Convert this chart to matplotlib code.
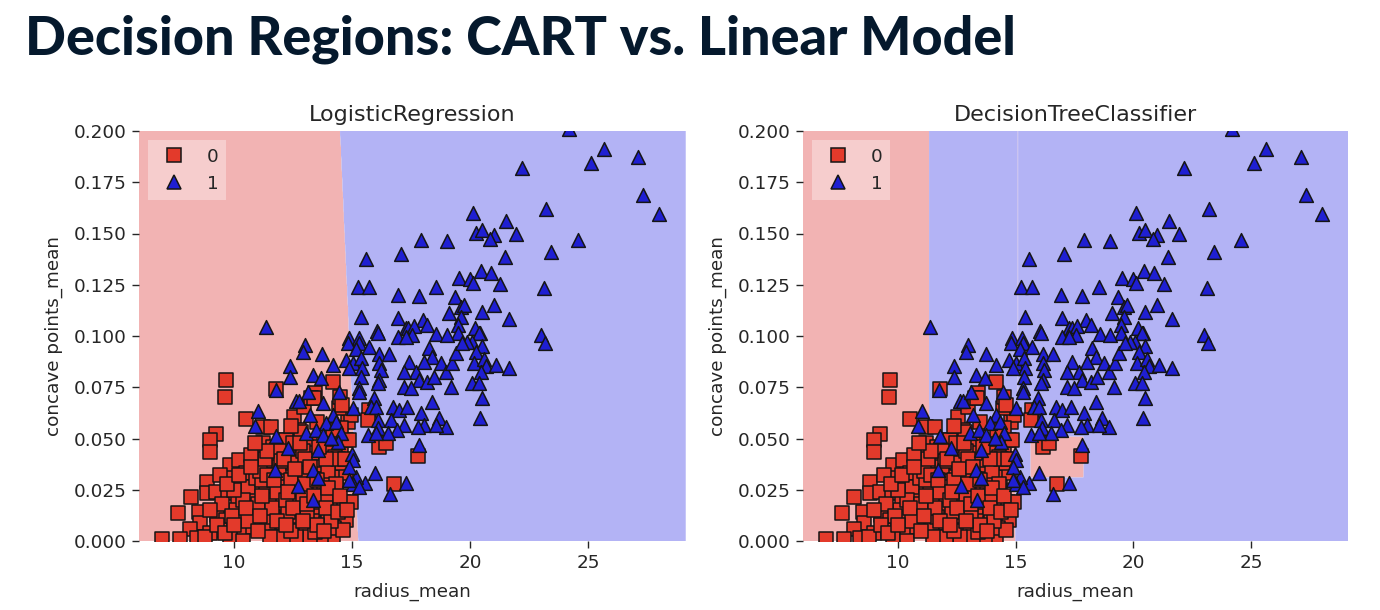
import matplotlib
matplotlib.use("Agg")
import matplotlib.pyplot as plt
import numpy as np
from matplotlib.lines import Line2D

# ---------------- text ----------------
suptitle = "Decision Regions: CART vs. Linear Model"
panel_titles = ["LogisticRegression", "DecisionTreeClassifier"]
x_label = "radius_mean"
y_label = "concave points_mean"
class_labels = ["0", "1"]
x_ticks = [10, 15, 20, 25]
y_ticks = [0.0, 0.025, 0.05, 0.075, 0.1, 0.125, 0.15, 0.175, 0.2]

# ---------------- data ----------------
benign_radius = [
    9.68, 9.61, 10.52, 9.23, 8.98, 8.98, 12.56, 11.22, 11.58, 11.79, 11.22, 11.01, 11.65, 9.82, 10.21,
    10.92, 8.84, 8.84, 9.82, 8.16, 7.64, 8.52, 8.55, 8.13, 6.94, 7.71, 9.26, 9.75, 9.28, 9.68,
    10.24, 10.17, 10.10, 10.24, 10.31, 10.80, 10.87, 10.73, 10.80, 11.37, 11.51, 11.30, 11.44, 12.0, 12.07,
    11.93, 12.07, 11.79, 12.70, 12.63, 12.77, 12.49, 12.70, 12.56, 12.21, 12.77, 11.65, 11.51, 12.07, 12.70,
    12.35, 10.52, 10.59, 9.40, 9.82, 8.98, 8.42,
    11.44, 11.58, 10.95, 8.77, 12.07, 12.77, 11.65, 13.06, 13.62, 13.90, 14.25, 13.76, 14.32, 14.6,
    14.32, 14.18, 13.69, 14.53, 14.04, 14.74, 12.77, 13.20, 12.07, 12.21, 12.49, 14.81, 14.95, 13.41, 12.98,
    12.84, 13.47, 13.20, 13.47, 13.69, 14.25, 13.97, 14.74, 14.18, 13.69, 13.20, 12.63, 12.07, 11.51,
    14.18, 13.27, 13.37, 14.46, 14.53, 13.97, 14.53, 14.18, 14.74, 13.62, 14.18, 14.67, 13.33, 14.25, 13.41,
    14.6, 14.95, 15.70, 15.66, 16.15, 16.43, 17.77, 16.78, 14.50, 14.58, 14.86, 14.29, 14.58,
    9.5, 9.9, 10.4, 10.6, 11.0, 11.2, 11.8, 11.9, 12.3, 12.4, 12.9, 13.0, 13.1, 13.3, 13.6, 13.8, 14.0,
    14.1, 14.4, 10.0, 10.4, 11.0, 11.6, 12.2, 12.5, 13.0, 13.9, 12.9, 11.9, 11.1, 9.4, 9.7, 12.4, 13.5,
    14.3, 11.3, 10.7, 12.0, 13.0, 13.9,
    9.0, 9.3, 9.6, 10.0, 10.2, 10.5, 10.7, 11.1, 11.2, 11.4, 11.7, 11.8, 12.1, 12.3, 12.5, 12.6, 12.9,
    13.1, 13.2, 13.4, 13.5, 13.8, 13.9, 14.0, 14.4, 14.5, 14.7, 14.8, 12.2, 11.4, 10.9, 12.8, 13.6, 14.2,
    13.5, 12.4,
]
benign_concave = [
    0.0785, 0.0704, 0.0594, 0.0522, 0.0493, 0.0436, 0.0603, 0.0558, 0.0558, 0.0740, 0.0477, 0.0428, 0.0460, 0.0371, 0.0395,
    0.0362, 0.0289, 0.0236, 0.0306, 0.0216, 0.0135, 0.0143, 0.0089, 0.0057, 0.0008, 0.0008, 0.0240, 0.0233, 0.0127, 0.0102,
    0.0273, 0.0216, 0.0151, 0.0111, 0.0054, 0.0281, 0.0216, 0.0151, 0.0070, 0.0265, 0.0200, 0.0135, 0.0062, 0.0281, 0.0216,
    0.0151, 0.0086, 0.0021, 0.0314, 0.0249, 0.0184, 0.0119, 0.0054, 0.0411, 0.0346, 0.0379, 0.0411, 0.0362, 0.0493, 0.0525,
    0.0468, 0.0330, 0.0265, 0.0054, 0.0021, 0.0038, 0.0013,
    0.0379, 0.0322, 0.0306, 0.0021, 0.0330, 0.0346, 0.0119, 0.0070, 0.0135, 0.0086, 0.0070, 0.0208, 0.0249, 0.0176,
    0.0314, 0.0371, 0.0371, 0.0436, 0.0444, 0.0493, 0.0541, 0.0484, 0.0428, 0.0493, 0.0477, 0.0582, 0.0615, 0.0720, 0.0655,
    0.0533, 0.0395, 0.0265, 0.0265, 0.0298, 0.0176, 0.0127, 0.0102, 0.0021, 0.0021, 0.0021, 0.0021, 0.0021, 0.0021,
    0.0777, 0.0696, 0.0696, 0.0647, 0.0550, 0.0428, 0.0371, 0.0314, 0.0330, 0.0249, 0.0184, 0.0192, 0.0167, 0.0062, 0.0045,
    0.0054, 0.0192, 0.0639, 0.0590, 0.0460, 0.0477, 0.0415, 0.0278, 0.0704, 0.0663, 0.0493, 0.0411, 0.0379,
    0.018, 0.012, 0.020, 0.010, 0.018, 0.030, 0.024, 0.036, 0.014, 0.030, 0.022, 0.034, 0.012, 0.043, 0.019, 0.028, 0.034,
    0.010, 0.040, 0.025, 0.000, 0.005, 0.016, 0.020, 0.038, 0.028, 0.022, 0.044, 0.044, 0.034, 0.032, 0.028, 0.005, 0.008,
    0.028, 0.040, 0.042, 0.039, 0.040, 0.040,
    0.015, 0.008, 0.004, 0.008, 0.032, 0.016, 0.036, 0.012, 0.022, 0.032, 0.030, 0.010, 0.040, 0.024, 0.016, 0.035, 0.010,
    0.018, 0.036, 0.022, 0.030, 0.005, 0.016, 0.026, 0.014, 0.022, 0.040, 0.015, 0.008, 0.044, 0.048, 0.048, 0.046, 0.054,
    0.058, 0.056,
]
malignant_radius = [
    11.37, 15.59, 17.06, 15.25, 15.70, 16.94, 15.39, 16.96, 16.05, 17.27, 14.85, 15.28, 16.96,
    24.17, 25.64, 25.12, 27.12, 22.17, 27.33, 28.0, 20.10, 23.19, 21.52, 20.25, 20.51, 21.0, 20.82, 21.92,
    17.91, 19.02, 24.55, 21.48, 23.42, 19.52, 19.98, 20.11, 20.47, 20.86, 21.28, 18.55, 23.12, 17.84, 19.36,
    19.61, 19.74, 19.10, 20.51, 21.0, 19.6, 21.66, 17.98, 18.19, 17.38, 17.62, 19.47, 19.47, 20.20, 20.40,
    18.57, 19.01, 23.01, 17.55,
    23.18, 20.37, 20.09, 20.51, 20.23, 20.16, 20.58, 20.65, 21.1, 21.63, 20.44, 20.09, 20.37, 20.51, 20.4,
    13.0, 13.73, 14.18, 13.33, 13.69, 14.81, 15.30, 15.17, 15.70, 16.08, 14.74, 15.02, 15.38, 15.42, 14.88,
    16.15, 16.57, 16.15, 16.22, 15.38, 16.15, 16.08, 15.3, 17.27, 18.26, 18.4, 19.87, 17.41, 17.70, 17.2,
    18.05, 18.75, 18.96, 19.24, 19.38, 19.66, 17.84, 18.19, 18.47, 19.17, 17.2, 17.49, 18.4, 15.94, 15.80,
    16.01, 16.71, 16.99, 17.34, 16.08, 16.64, 17.2, 16.92, 17.91, 18.05, 17.77, 18.68, 18.96, 18.54, 16.11,
    16.5, 15.66, 16.01, 17.84, 15.98, 17.27, 16.6, 15.56, 15.17, 15.02, 15.3, 14.99, 15.02, 14.88,
    12.91, 12.39, 12.39, 11.76, 12.63, 12.77, 11.01, 10.87, 11.79, 12.28, 11.72, 12.70, 13.06,
    13.36, 13.55, 13.33, 13.55, 13.12, 13.20, 13.47, 13.76, 14.18, 13.90, 13.76, 14.32, 14.53, 14.39, 15.02,
    14.88, 15.3, 14.46, 14.11,
]
malignant_concave = [
    0.1045, 0.1374, 0.1400, 0.1240, 0.1240, 0.1200, 0.1094, 0.1086, 0.1026, 0.1037, 0.0989, 0.0989, 0.0997,
    0.2010, 0.1910, 0.1842, 0.1875, 0.1818, 0.1688, 0.1594, 0.1602, 0.1618, 0.1561, 0.1501, 0.1517, 0.1493, 0.1472, 0.1498,
    0.1468, 0.1465, 0.1468, 0.1387, 0.1408, 0.1281, 0.1277, 0.1257, 0.1319, 0.1306, 0.1252, 0.1241, 0.1233, 0.1195, 0.1192,
    0.1143, 0.1151, 0.1114, 0.1119, 0.1151, 0.1094, 0.1083, 0.1078, 0.1054, 0.1040, 0.1049, 0.1054, 0.1013, 0.1037, 0.1013,
    0.1010, 0.1005, 0.1005, 0.1005,
    0.0964, 0.1013, 0.0972, 0.0951, 0.0923, 0.0867, 0.0886, 0.0854, 0.0859, 0.0842, 0.0826, 0.0769, 0.0772, 0.0696, 0.0599,
    0.0956, 0.0912, 0.0859, 0.0810, 0.0794, 0.0967, 0.0967, 0.0935, 0.0945, 0.1016, 0.0883, 0.0867, 0.0891, 0.0842, 0.0842,
    0.0912, 0.0912, 0.0867, 0.0834, 0.0802, 0.0785, 0.0769, 0.0745, 0.0997, 0.0940, 0.0899, 0.0972, 0.0875, 0.0826, 0.0826,
    0.0875, 0.0867, 0.0826, 0.0867, 0.0916, 0.0964, 0.0785, 0.0777, 0.0802, 0.0753, 0.0753, 0.0745, 0.0680, 0.0696, 0.0655,
    0.0655, 0.0655, 0.0639, 0.0655, 0.0590, 0.0590, 0.0566, 0.0541, 0.0623, 0.0566, 0.0558, 0.0599, 0.0558, 0.0566, 0.0550,
    0.0525, 0.0517, 0.0525, 0.0468, 0.0330, 0.0281, 0.0229, 0.0281, 0.0314, 0.0278, 0.0265, 0.0424, 0.0395, 0.0362,
    0.0923, 0.0854, 0.0802, 0.0737, 0.0683, 0.0683, 0.0634, 0.0561, 0.0512, 0.0452, 0.0346, 0.0268, 0.0525,
    0.0200, 0.0444, 0.0346, 0.0306, 0.0728, 0.0615, 0.0541, 0.0672, 0.0615, 0.0574, 0.0517, 0.0582, 0.0525, 0.0484, 0.0647,
    0.0298, 0.0728, 0.0728, 0.0501,
]

# fitted model parameters (read from the drawn boundaries)
lr_weights = [1.0, 3.85]   # radius, concave points
lr_bias = -15.26
tree_concave_split = 0.05
tree_radius_split_high = 11.33   # used when concave > split
tree_radius_split_low = 14.98    # used when concave <= split
tree_patch = [15.63, 17.89, 0.03, 0.05]      # x0, x1, y0, y1 -> class 0
tree_strip = [15.085, 15.115, 0.07, 0.21]    # x0, x1, y0, y1 -> class 0

x_range = [5.98, 29.11]
y_range = [0.0, 0.2]

# ---------------- style ----------------
pink = "#F2B3B3"
lavender = "#B3B3F5"
sq_color = "#E33A2B"
tri_color = "#1F1FD2"
edge = "#151515"
text_color = "#262626"
title_color = "#05192D"

fig = plt.figure(figsize=(13.8, 6.1), dpi=100)

xx, yy = np.meshgrid(np.arange(x_range[0], x_range[1] + 0.02, 0.02),
                     np.arange(-0.01, 0.22, 0.002))

def lr_predict(x, y):
    return (lr_weights[0] * x + lr_weights[1] * y + lr_bias > 0).astype(float)

def tree_predict(x, y):
    z = np.where(y > tree_concave_split,
                 (x > tree_radius_split_high).astype(float),
                 (x > tree_radius_split_low).astype(float))
    px0, px1, py0, py1 = tree_patch
    z[(x > px0) & (x <= px1) & (y > py0) & (y <= py1)] = 0
    sx0, sx1, sy0, sy1 = tree_strip
    z[(x > sx0) & (x <= sx1) & (y > sy0) & (y <= sy1)] = 0
    return z

axes_rects = [[139 / 1380, 69 / 610, 546.5 / 1380, 410 / 610],
              [803 / 1380, 69 / 610, 545 / 1380, 410 / 610]]

for rect, name, predict in zip(axes_rects, panel_titles, [lr_predict, tree_predict]):
    ax = fig.add_axes(rect)
    zz = predict(xx, yy)
    ax.contourf(xx, yy, zz, levels=[-0.5, 0.5, 1.5], colors=[pink, lavender], antialiased=True)
    ax.scatter(benign_radius, benign_concave, marker="s", s=92, c=sq_color,
               edgecolors=edge, linewidths=1.1, zorder=3)
    ax.scatter(malignant_radius, malignant_concave, marker="^", s=98, c=tri_color,
               edgecolors=edge, linewidths=1.1, zorder=3)
    ax.set_xlim(x_range)
    ax.set_ylim(y_range)
    ax.set_xticks(x_ticks)
    ax.set_yticks(y_ticks)
    ax.set_yticklabels([f"{v:.3f}" for v in y_ticks])
    for s in ax.spines.values():
        s.set_visible(False)
    ax.tick_params(axis="both", labelsize=13.2, colors=text_color, length=5, width=1.0, pad=4)
    ax.set_xlabel(x_label, fontsize=13.2, color=text_color, labelpad=8)
    ax.set_ylabel(y_label, fontsize=13.2, color=text_color, labelpad=8)
    ax.set_title(name, fontsize=16, color=text_color, pad=7)
    handles = [
        Line2D([], [], marker="s", linestyle="none", markersize=9.5, markerfacecolor=sq_color,
               markeredgecolor=edge, markeredgewidth=1.1),
        Line2D([], [], marker="^", linestyle="none", markersize=10, markerfacecolor=tri_color,
               markeredgecolor=edge, markeredgewidth=1.1),
    ]
    leg = ax.legend(handles, class_labels, loc="upper left", fontsize=13.2, frameon=True,
                    framealpha=0.35, facecolor="white", edgecolor="none", fancybox=False)
    for t in leg.get_texts():
        t.set_color(text_color)

# figure title, fitted to the reference width
t = fig.text(25 / 1380, 1 - 55 / 610, suptitle, fontsize=38, fontweight="black",
             family=["Lato", "DejaVu Sans"], color=title_color, ha="left", va="baseline")
fig.canvas.draw()
w = t.get_window_extent().width
t.set_fontsize(38 * 990 / w)

fig.savefig("out.png", dpi=100)
